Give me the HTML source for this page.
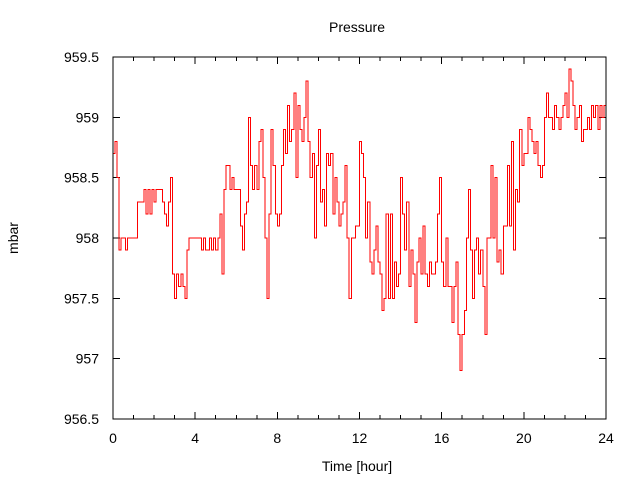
<!DOCTYPE html>
<html><head><meta charset="utf-8"><style>
body{margin:0;background:#fff}
svg text{font-family:"Liberation Sans",sans-serif;font-size:14px;fill:#000}
</style></head><body>
<svg width="640" height="480" xmlns="http://www.w3.org/2000/svg">
<rect width="640" height="480" fill="#fff"/>
<text x="357" y="32" text-anchor="middle">Pressure</text>
<text x="357" y="471" text-anchor="middle">Time [hour]</text>
<text x="18" y="238" text-anchor="middle" transform="rotate(-90 18 238)">mbar</text>
<g id="axes"></g>
<path id="series" fill="none" stroke="#f00" stroke-width="1" shape-rendering="crispEdges"/>
<rect x="113" y="57" width="493" height="362" fill="none" stroke="#000" shape-rendering="crispEdges"/>
</svg>
<script>
const xTicks=[0,4,8,12,16,20,24];
const yTicks=[956.5,957,957.5,958,958.5,959,959.5];
const yTickLabels=["956.5","957","957.5","958","958.5","959","959.5"];
const tStep=0.1;
const pressure=[958.7,958.8,958.5,957.9,958.0,958.0,957.9,958.0,958.0,958.0,
958.0,958.0,958.3,958.3,958.3,958.4,958.2,958.4,958.2,958.4,
958.3,958.4,958.4,958.4,958.3,958.2,958.1,958.3,958.5,957.7,
957.5,957.7,957.6,957.7,957.6,957.5,957.9,958.0,958.0,958.0,
958.0,958.0,958.0,957.9,958.0,957.9,957.9,958.0,957.9,958.0,
957.9,958.0,958.2,957.7,958.4,958.6,958.6,958.4,958.5,958.4,
958.4,958.4,958.1,957.9,958.2,958.3,959.0,958.6,958.4,958.6,
958.4,958.8,958.9,958.5,958.0,957.5,958.2,958.9,958.6,958.2,
958.1,958.2,958.6,958.9,958.7,959.1,958.8,958.9,959.2,958.5,
959.1,958.9,958.8,959.0,959.3,958.8,958.5,958.7,958.0,958.6,
958.9,958.3,958.4,958.1,958.7,958.6,958.7,958.2,958.5,958.3,
958.1,958.2,958.3,958.6,958.0,957.5,958.0,958.0,958.1,958.1,
958.8,958.7,958.5,958.0,958.3,957.8,957.7,957.9,958.1,957.8,
957.7,957.4,957.5,958.2,957.5,958.2,957.5,957.8,957.6,957.7,
958.5,958.2,957.9,958.3,957.6,957.9,957.7,957.3,957.8,958.0,
957.7,958.1,957.7,957.6,957.8,957.7,957.7,957.8,958.2,958.5,
957.8,957.6,958.0,957.6,957.6,957.3,957.6,957.8,957.2,956.9,
957.2,957.4,958.0,958.4,957.9,957.5,957.9,958.0,957.7,957.9,
957.6,957.2,958.0,958.0,958.6,958.0,958.5,957.8,957.9,957.7,
958.1,958.1,958.6,958.1,958.8,957.9,958.4,958.3,958.9,958.6,
958.7,958.7,959.0,958.9,958.8,958.7,958.8,958.6,958.5,958.6,
959.0,959.2,959.0,959.0,958.9,959.1,959.0,958.9,959.0,959.1,
959.2,959.0,959.4,959.3,959.1,958.9,959.0,959.1,958.8,958.9,
958.9,959.0,958.9,959.1,959.0,959.1,958.9,959.1,959.0,959.1,959.0];
const X0=113,X1=606,Y0=419,Y1=57;
const xs=h=>X0+(h-0)/(24-0)*(X1-X0);
const ys=v=>Y0-(v-956.5)/(959.5-956.5)*(Y0-Y1);
const NS="http://www.w3.org/2000/svg";
const ax=document.getElementById('axes');
function mk(tag,attrs){const e=document.createElementNS(NS,tag);for(const k in attrs)e.setAttribute(k,attrs[k]);ax.appendChild(e);return e;}
for(let h=0;h<=24;h++){
  const x=xs(h),major=h%4===0,l=major?7:4;
  const t=mk('path',{d:`M${x},${Y0}v${-l}M${x},${Y1}v${l}`,stroke:'#000','shape-rendering':'crispEdges'});
  
  
}
xTicks.forEach(h=>{
  const t=mk('text',{x:xs(h),y:443,'text-anchor':'middle'});t.textContent=String(h);
  
  
});
yTicks.forEach((v,i)=>{
  const y=ys(v);
  const p=mk('path',{d:`M${X0},${y}h7M${X1},${y}h-7`,stroke:'#000','shape-rendering':'crispEdges'});
  
  
  const t=mk('text',{x:99,y:y+5,'text-anchor':'end'});t.textContent=yTickLabels[i];
  
  
});
let d='';
pressure.forEach((v,i)=>{
  const x=xs(i*tStep),y=ys(v);
  if(i===0)d+=`M${x},${y}`;else d+=`L${x},${ys(pressure[i-1])}L${x},${y}`;
});
document.getElementById('series').setAttribute('d',d);
</script>
</body></html>
